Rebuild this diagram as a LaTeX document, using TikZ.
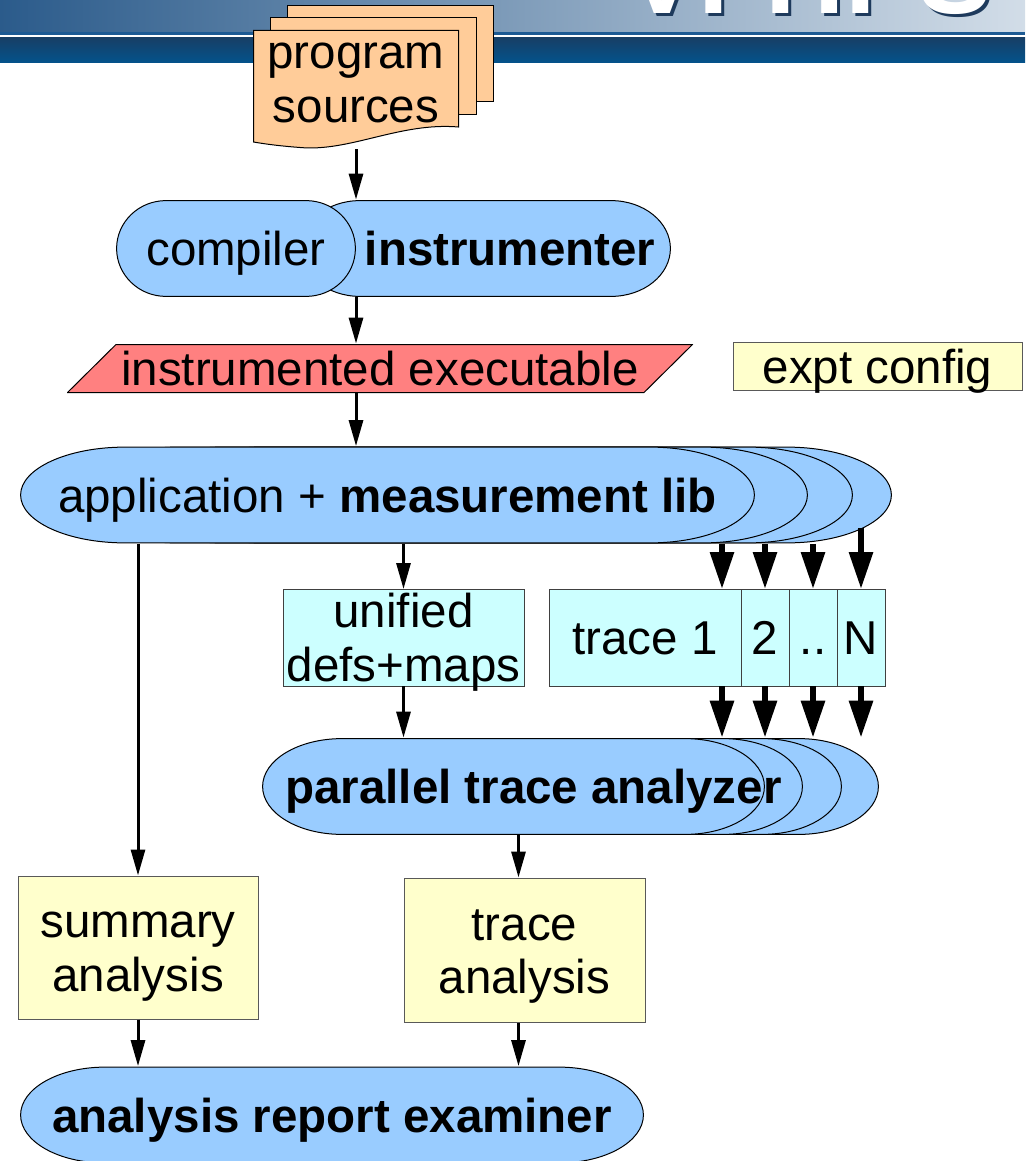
\documentclass[tikz,border=0pt]{standalone}
\usepackage{fontspec}
\setmainfont{Liberation Sans}
\usetikzlibrary{calc, positioning, arrows.meta}

\definecolor{pillblue}{HTML}{99CCFF}
\definecolor{tracecyan}{HTML}{CCFFFF}
\definecolor{noteyellow}{HTML}{FFFFCC}
\definecolor{srcorange}{HTML}{FFCC99}
\definecolor{exered}{HTML}{FF8080}
\definecolor{bannerleft}{HTML}{2B5B8B}
\definecolor{bannerright}{HTML}{D2DDE8}
\definecolor{bannerline}{HTML}{1D5A93}
\definecolor{bannertop}{HTML}{173F66}
\definecolor{bannerbottom}{HTML}{03538C}
\definecolor{logoshade}{HTML}{1E3A5C}

\newcommand{\diagfont}{\fontsize{23.75pt}{26.75pt}\selectfont}

\tikzset{
  txt/.style={font=\diagfont, align=center, text height=18pt, text depth=1pt},
  twoline/.style={text height=44.75pt},
  pill/.style={rectangle, inner sep=0pt, minimum height=48.5pt, txt,
    path picture={
      \coordinate (ppnw) at (path picture bounding box.north west);
      \coordinate (ppne) at (path picture bounding box.north east);
      \coordinate (ppsw) at (path picture bounding box.south west);
      \draw[fill=pillblue, line width=0.5pt]
        ($(ppnw)+(#1,-0.6)$) -- ($(ppne)+(-#1,-0.6)$)
        arc[start angle=90, end angle=-90, x radius=#1-0.6, y radius=47.9]
        -- ($(ppsw)+(#1,0.6)$)
        arc[start angle=270, end angle=90, x radius=#1-0.6, y radius=47.9]
        -- cycle;
    }},
  doc/.style={rectangle, inner sep=0pt, txt,
    path picture={
      \coordinate (ppnw) at (path picture bounding box.north west);
      \draw[fill=srcorange, line width=0.5pt]
        ($(ppnw)+(0.5,-0.5)$) -- ($(ppnw)+(205.5,-0.5)$) -- ($(ppnw)+(205.5,-97)$)
        .. controls ($(ppnw)+(147,-92)$) and ($(ppnw)+(97,-122)$) .. ($(ppnw)+(47,-117.5)$)
        .. controls ($(ppnw)+(27,-116)$) and ($(ppnw)+(12,-114)$) .. ($(ppnw)+(0.5,-112)$)
        -- cycle;
    }},
  docback/.style={rectangle, draw, line width=0.5pt, fill=srcorange},
  exe/.style={rectangle, inner sep=0pt, txt,
    path picture={
      \coordinate (ppnw) at (path picture bounding box.north west);
      \coordinate (ppne) at (path picture bounding box.north east);
      \coordinate (ppse) at (path picture bounding box.south east);
      \coordinate (ppsw) at (path picture bounding box.south west);
      \draw[fill=exered, line width=0.5pt]
        ($(ppnw)+(49,-0.5)$) -- ($(ppne)+(-0.5,-0.5)$) -- ($(ppse)+(-49,0.5)$)
        -- ($(ppsw)+(0.5,0.5)$) -- cycle;
    }},
  tracebox/.style={rectangle, draw=black!75, line width=0.5pt, fill=tracecyan, txt,
    inner xsep=1pt, inner ysep=0pt, outer sep=0pt, minimum height=48.5pt},
  note/.style={rectangle, draw=black!65, line width=0.5pt, fill=noteyellow, txt, inner ysep=0pt},
  arr/.style={-{Triangle[length=13pt, width=7pt]}, line width=1.5pt},
  fatarr/.style={-{Triangle[length=18.5pt, width=11.5pt]}, line width=3pt},
}

\begin{document}
\begin{tikzpicture}[x=0.5pt, y=0.5pt]
\useasboundingbox[fill=white] (0,0) rectangle (1025,-1161);

% banner
\shade[left color=bannerleft, right color=bannerright] (0,0) rectangle (1025,-33);
\begin{scope}
  \clip (0,0) rectangle (1025,-32);
  \node[anchor=base west, inner sep=0pt, text=logoshade, font=\fontsize{55pt}{55pt}\selectfont\bfseries] (logoshadow) at (628,-17) {VI-HPS};
  \node[anchor=base west, inner sep=0pt, text=white, font=\fontsize{55pt}{55pt}\selectfont\bfseries] (logo) at (625,-14) {VI-HPS};
\end{scope}
\fill[bannerline] (0,-32) rectangle (1025,-35);
\fill[white] (0,-35) rectangle (1025,-38);
\shade[top color=bannertop, bottom color=bannerbottom] (0,-38) rectangle (1025,-63);

% program sources
\node[docback, minimum width=103pt, minimum height=48pt] (src3) at (390,-54) {};
\node[docback, minimum width=103pt, minimum height=48.5pt] (src2) at (373,-66.5) {};
\node[doc, twoline, minimum width=103pt, minimum height=59.5pt, text depth=12.25pt] (src) at (356,-89.5) {program\\sources};

% compiler + instrumenter
\node[pill=60, minimum width=185.5pt] (instr) at (485.5,-248.5) {};
\node[pill=50, minimum width=120pt] (comp) at (236,-248.5) {compiler};
\node[txt] (instrtext) at (510,-248.5) {\textbf{instrumenter}};

\node[exe, minimum width=313pt, minimum height=24.5pt] (exe) at (380,-368.5) {instrumented executable};
\node[note, minimum width=144.5pt, minimum height=24pt] (expt) at (877.5,-366) {expt config};

% application processes
\foreach \dx/\nm in {137/app4, 98/app3, 53/app2}
  \node[pill=105, minimum width=367.5pt] (\nm) at (387.5+\dx,-495) {};
\node[pill=105, minimum width=367.5pt] (app) at (387.5,-495) {application + \textbf{measurement lib}};

% definitions and traces
\node[tracebox, twoline, minimum width=120.5pt] (defs) at (403.5,-637.5) {unified\\defs+maps};
\node[tracebox, minimum width=96pt] (tr1) at (645,-637.5) {trace 1};
\node[tracebox, minimum width=24pt, right=0pt of tr1] (tr2) {2};
\node[tracebox, minimum width=24pt, right=0pt of tr2] (trd) {..};
\node[tracebox, minimum width=24pt, right=0pt of trd] (trN) {N};

% analyzer processes
\foreach \dx/\nm in {114/ana4, 77/ana3, 38/ana2}
  \node[pill=80, minimum width=251.5pt] (\nm) at (513.5+\dx,-786.5) {};
\node[pill=80, minimum width=251.5pt] (ana) at (513.5,-786.5) {};
\node[txt] (anatext) at (533.5,-786.5) {\textbf{parallel trace analyzer}};

% results
\node[note, twoline, minimum width=120pt, minimum height=71.5pt] (summ) at (138,-947.5) {summary\\analysis};
\node[note, twoline, minimum width=120.5pt, minimum height=72pt] (tana) at (524.5,-950) {trace\\analysis};
\node[pill=85, minimum width=312pt] (exam) at (332,-1115) {\textbf{analysis report examiner}};

% arrows
\draw[arr] (src.south) -- (src.south |- instr.north);
\draw[arr] (src.south |- instr.south) -- (src.south |- exe.north);
\draw[arr] (src.south |- exe.south) -- (src.south |- app.north);
\draw[arr] (defs.north |- app.south) -- (defs.north);
\draw[arr] (summ.north |- app.south) -- (summ.north);
\draw[arr] (defs.south) -- (defs.south |- ana.north);

\coordinate (t1) at ($(tr1.north east)+(-19,0)$);
\foreach \t in {t1, tr2, trd} \draw[fatarr] (\t |- app.south) -- (\t |- tr1.north);
\draw[fatarr] ($(trN |- app.south)+(0,16)$) -- (trN.north);
\foreach \t in {t1, tr2, trd, trN} \draw[fatarr] (\t |- tr1.south) -- (\t |- ana.north);

\coordinate (tanain) at ($(tana.north)+(-6,0)$);
\coordinate (tanaout) at ($(tana.south)+(-6,0)$);
\draw[arr] (tanain |- ana.south) -- (tanain);
\draw[arr] (summ.south) -- (summ.south |- exam.north);
\draw[arr] (tanaout) -- (tanaout |- exam.north);
\end{tikzpicture}
\end{document}
